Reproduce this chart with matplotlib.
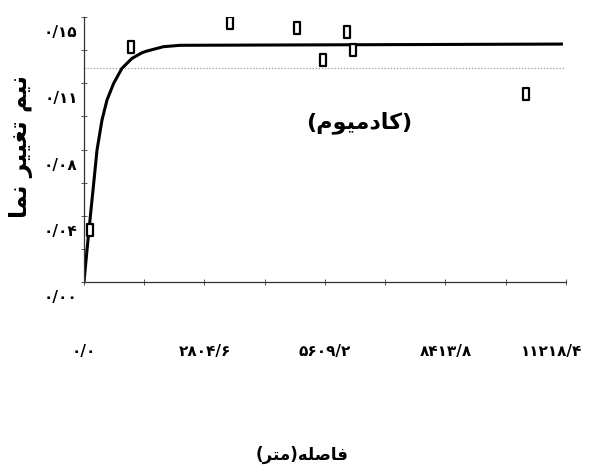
import numpy as np
import matplotlib
matplotlib.use("Agg")
import matplotlib.pyplot as plt
import matplotlib.transforms as mtransforms
from matplotlib.path import Path

plt.rcParams['font.family'] = ['DejaVu Sans']

# experimental semivariogram points (distance m, gamma)
lag_x = [140, 1087, 3398, 4950, 5570, 6114, 6268, 10280]
lag_gamma = [0.0294, 0.1329, 0.1464, 0.1436, 0.1257, 0.1417, 0.1313, 0.1064]

# fitted model line
model_x = [0, 70, 147, 226, 303, 342, 419, 535, 691, 884, 1117, 1350, 1459,
           1846, 2234, 11149]
model_gamma = [0, 0.0181, 0.0370, 0.0559, 0.0747, 0.0804, 0.0917, 0.1030,
               0.1125, 0.1210, 0.1266, 0.1298, 0.1307, 0.1332, 0.1340, 0.1347]

sample_variance = 0.121

x_ticks = [0, 2804.6, 5609.2, 8413.8, 11218.4]
x_labels = ['۰/۰', '۲۸۰۴/۶', '۵۶۰۹/۲', '۸۴۱۳/۸', '۱۱۲۱۸/۴']
y_ticks = [0, 0.0375, 0.075, 0.1125, 0.15]
y_labels = ['۰/۰۰', '۰/۰۴', '۰/۰۸', '۰/۱۱', '۰/۱۵']

# Persian text given in visual order with presentation forms
title_txt = '(\uFEE1\uFEEE\uFEF4\uFEE3\uFEA9\uFE8E\uFEDB)'
ylabel_txt = '\uFE8E\uFEE4\uFEE7 \uFEAE\uFEF4\uFEF4\uFED0\uFE97 \uFEE2\uFEF4\uFEE7'
xlabel_txt = '(\uFEAE\uFE98\uFEE3)\uFEEA\uFEE0\uFEBB\uFE8E\uFED3'

fig = plt.figure(figsize=(5.94, 4.72), dpi=100)
ax = fig.add_axes([0.1414, 0.4025, 0.8114, 0.5614])

ax.plot([0, x_ticks[-1]], [sample_variance, sample_variance], color='#999999',
        lw=0.9, ls=(0, (1, 1.5)))
ax.plot(model_x, model_gamma, color='black', lw=2.2, solid_capstyle='butt',
        solid_joinstyle='round')

rect = Path([(-0.55, -1), (0.55, -1), (0.55, 1), (-0.55, 1), (-0.55, -1)],
            [Path.MOVETO, Path.LINETO, Path.LINETO, Path.LINETO, Path.CLOSEPOLY])
ax.plot(lag_x, lag_gamma, ls='none', marker=rect, markersize=8,
        markerfacecolor='white', markeredgecolor='black', markeredgewidth=1.6)

ax.set_xlim(0, x_ticks[-1])
ax.set_ylim(0, 0.15)
ax.set_xticks(x_ticks)
ax.set_xticklabels(x_labels, fontsize=11, fontweight='bold')
ax.set_xticks(np.arange(1, 8, 2) * x_ticks[1] / 2, minor=True)
ax.set_yticks(y_ticks)
ax.set_yticklabels(y_labels, fontsize=11, fontweight='bold')
ax.set_yticks(np.arange(1, 8, 2) * y_ticks[1] / 2, minor=True)

for s in ['top', 'right']:
    ax.spines[s].set_visible(False)
for s in ['left', 'bottom']:
    ax.spines[s].set_color('#333333')
    ax.spines[s].set_linewidth(0.9)

ax.tick_params(axis='x', which='both', direction='inout', length=5, width=0.7,
               colors='#555555', labelcolor='black', pad=42)
ax.tick_params(axis='y', which='both', direction='inout', length=5, width=0.7,
               colors='#555555', labelcolor='black', pad=2)

shift = mtransforms.ScaledTranslation(0, -14 / 100, fig.dpi_scale_trans)
for lab in ax.get_yticklabels():
    lab.set_transform(lab.get_transform() + shift)
last = ax.get_xticklabels()[-1]
last.set_transform(last.get_transform() +
                   mtransforms.ScaledTranslation(-14 / 100, 0, fig.dpi_scale_trans))

ax.text(0.57, 0.6, title_txt, transform=ax.transAxes, ha='center', va='center',
        fontsize=16, fontweight='bold')
fig.text(302 / 594, 1 - 455 / 472, xlabel_txt, ha='center', va='center',
         fontsize=12, fontweight='bold')
fig.text(21 / 594, 1 - 147 / 472, ylabel_txt, ha='center', va='center',
         rotation=90, fontsize=17, fontweight='bold')

fig.savefig('out.png', dpi=100)
